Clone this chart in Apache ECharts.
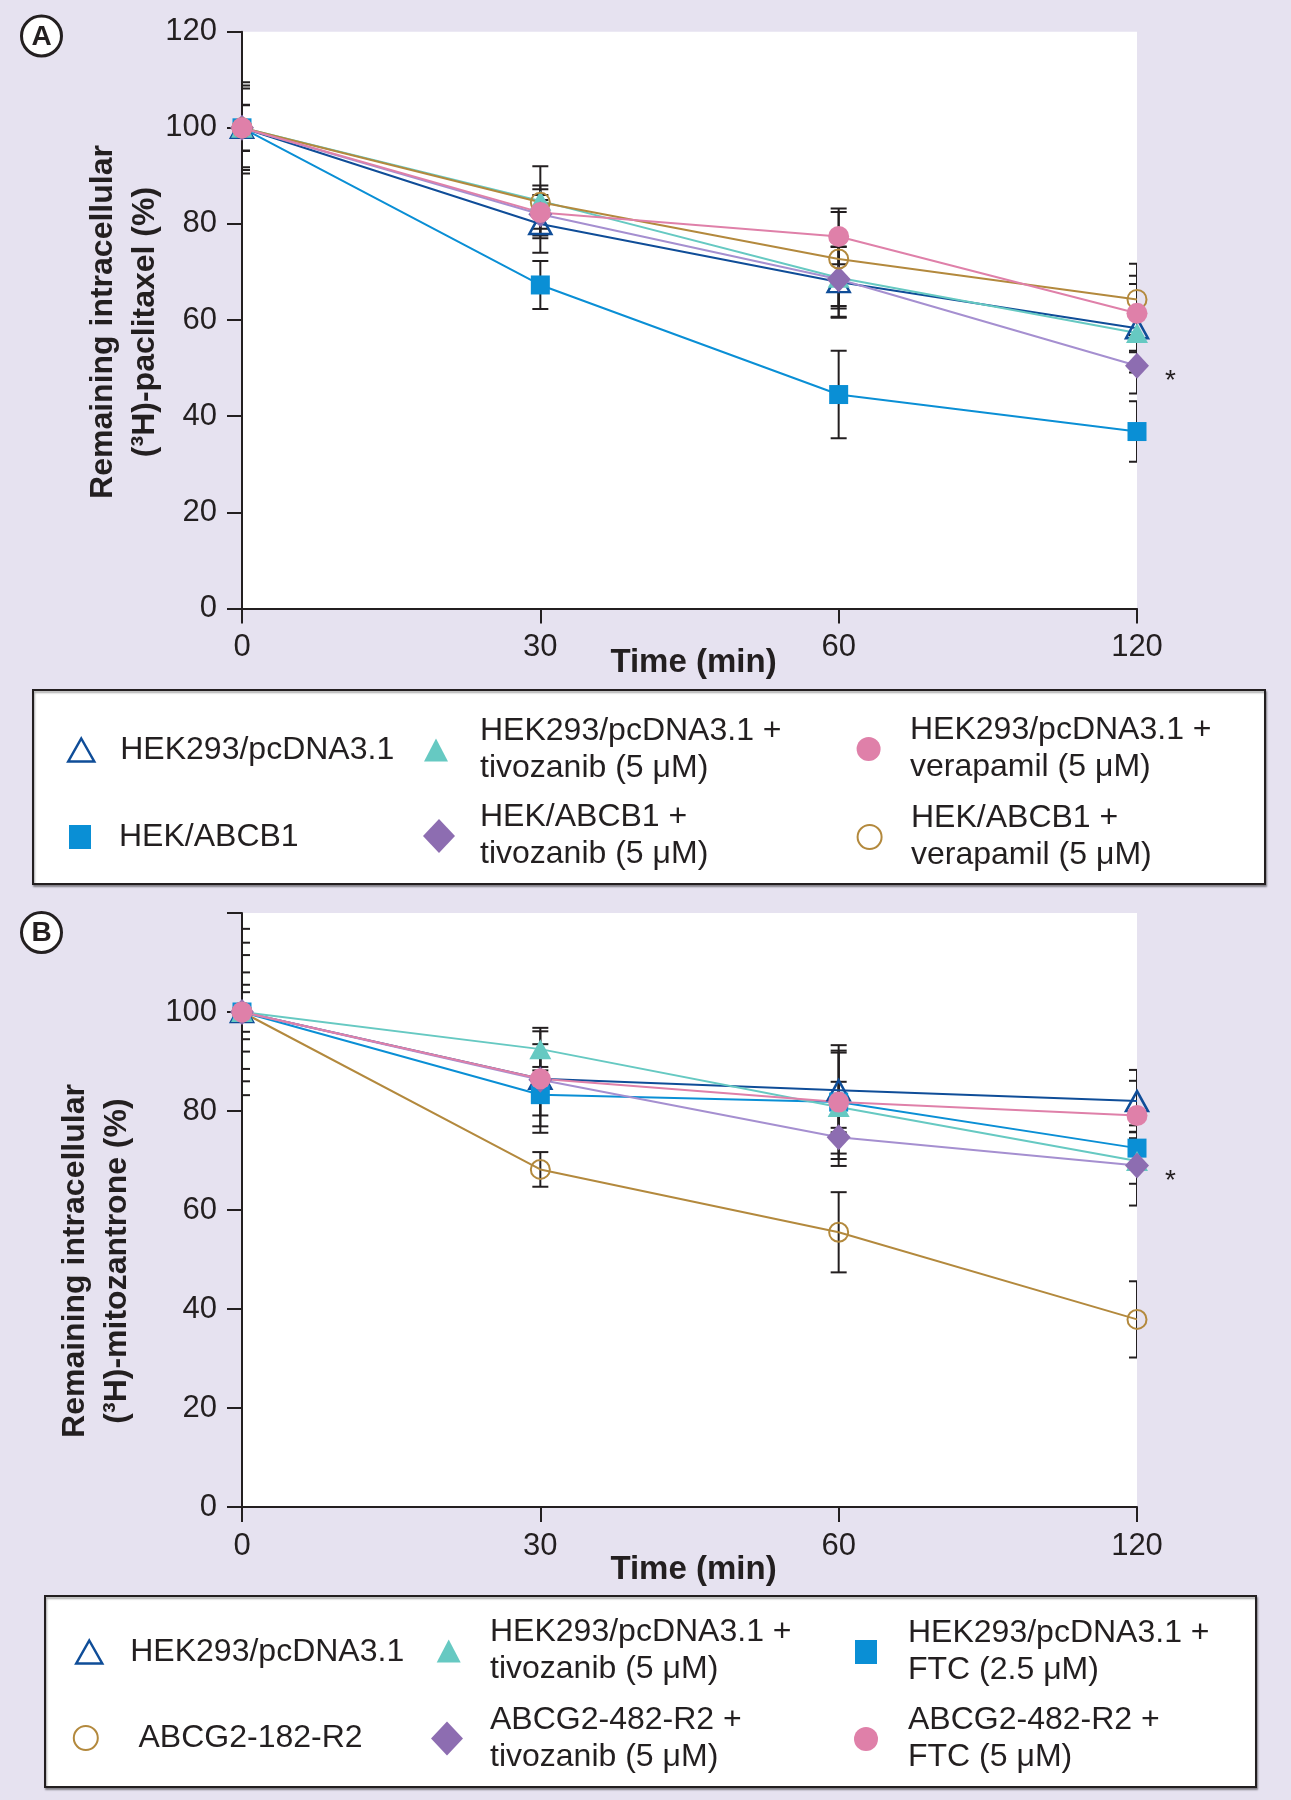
<!DOCTYPE html>
<html><head><meta charset="utf-8">
<script src="https://cdn.jsdelivr.net/npm/echarts@6/dist/echarts.min.js"></script>
<style>html,body{margin:0;padding:0;background:#e6e2f0}#c{width:1291px;height:1800px}</style>
</head><body><div id="c"></div>
<script>
// ---------- data ----------
const timeLabels = ['0', '30', '60', '120'];

// Panel A: (3H)-paclitaxel
const aPcdna      = [100, 80.0, 67.9, 58.3];  const aPcdnaErr      = [8.2, 6.0, 7.4, 9.2];
const aAbcb1      = [100, 67.3, 44.5, 36.8];  const aAbcb1Err      = [4.7, 5.0, 9.1, 6.3];
const aPcdnaTivo  = [100, 84.8, 68.8, 57.3];  const aPcdnaTivoErr  = [9.5, 3.2, 6.4, 4.0];
const aAbcb1Tivo  = [100, 82.0, 68.5, 50.5];  const aAbcb1TivoErr  = [8.8, 3.0, 7.8, 5.8];
const aPcdnaVera  = [100, 82.4, 77.4, 61.4];  const aPcdnaVeraErr  = [4.8, 4.8, 5.8, 7.8];
const aAbcb1Vera  = [100, 84.5, 72.7, 64.3];  const aAbcb1VeraErr  = [0, 7.5, 9.8, 7.4];

// Panel B: (3H)-mitozantrone
const bPcdna      = [100, 86.5, 84.2, 82.0];  const bPcdnaErr      = [8.0, 9.6, 7.6, 6.3];
const bPcdnaTivo  = [100, 92.5, 80.8, 69.9];  const bPcdnaTivoErr  = [11.5, 4.3, 5.1, 4.6];
const bPcdnaFtc   = [100, 83.3, 81.8, 72.5];  const bPcdnaFtcErr   = [4.0, 7.7, 11.5, 3.3];
const bAbcg2      = [100, 68.2, 55.5, 37.9];  const bAbcg2Err      = [5.5, 3.5, 8.1, 7.7];
const bAbcg2Tivo  = [100, 86.3, 74.7, 69.0];  const bAbcg2TivoErr  = [14.0, 7.2, 5.8, 8.1];
const bAbcg2Ftc   = [100, 86.5, 81.8, 79.1];  const bAbcg2FtcErr   = [16.8, 2.4, 10.4, 7.0];

const yTicks = [0, 20, 40, 60, 80, 100, 120];

// ---------- styles ----------
const FONT = "'Liberation Sans', Arial, Helvetica, sans-serif";
const INK = '#231f20';
const C = {
  navy: '#0f4d98', blue: '#0a8fd5', teal: '#66c9c2',
  purple: '#8d6db1', purpleLine: '#a58fd0', brown: '#b3893d', pink: '#df80a9'
};
const SYM = {
  openTri:  {symbol: 'triangle', size: [22, 20], fill: 'rgba(255,255,255,0)', stroke: C.navy, bw: 2.5, line: C.navy},
  tealTri:  {symbol: 'triangle', size: [22, 20], fill: C.teal, stroke: C.teal, bw: 0, line: C.teal},
  square:   {symbol: 'rect', size: [19, 19], fill: C.blue, stroke: C.blue, bw: 0, line: C.blue},
  diamond:  {symbol: 'diamond', size: [24, 26], fill: C.purple, stroke: C.purple, bw: 0, line: C.purpleLine},
  openCirc: {symbol: 'circle', size: 19, fill: 'rgba(255,255,255,0)', stroke: C.brown, bw: 2, line: C.brown},
  pinkCirc: {symbol: 'circle', size: 21, fill: C.pink, stroke: C.pink, bw: 0, line: C.pink}
};

// series definitions: [key, label, values, errors, symbolKey, gridIndex]
const seriesDefs = [
  ['A1', 'HEK293/pcDNA3.1', aPcdna, aPcdnaErr, 'openTri', 0],
  ['A2', 'HEK/ABCB1', aAbcb1, aAbcb1Err, 'square', 0],
  ['A3', 'HEK293/pcDNA3.1 +\ntivozanib (5 μM)', aPcdnaTivo, aPcdnaTivoErr, 'tealTri', 0],
  ['A4', 'HEK/ABCB1 +\ntivozanib (5 μM)', aAbcb1Tivo, aAbcb1TivoErr, 'diamond', 0],
  ['A6', 'HEK/ABCB1 +\nverapamil (5 μM)', aAbcb1Vera, aAbcb1VeraErr, 'openCirc', 0],
  ['A5', 'HEK293/pcDNA3.1 +\nverapamil (5 μM)', aPcdnaVera, aPcdnaVeraErr, 'pinkCirc', 0],
  ['B1', 'HEK293/pcDNA3.1', bPcdna, bPcdnaErr, 'openTri', 1],
  ['B4', 'ABCG2-182-R2', bAbcg2, bAbcg2Err, 'openCirc', 1],
  ['B3', 'HEK293/pcDNA3.1 +\nFTC (2.5 μM)', bPcdnaFtc, bPcdnaFtcErr, 'square', 1],
  ['B2', 'HEK293/pcDNA3.1 +\ntivozanib (5 μM)', bPcdnaTivo, bPcdnaTivoErr, 'tealTri', 1],
  ['B5', 'ABCG2-482-R2 +\ntivozanib (5 μM)', bAbcg2Tivo, bAbcg2TivoErr, 'diamond', 1],
  ['B6', 'ABCG2-482-R2 +\nFTC (5 μM)', bAbcg2Ftc, bAbcg2FtcErr, 'pinkCirc', 1]
];
const labelOf = {};
seriesDefs.forEach(d => { labelOf[d[0]] = d[1]; });

// ---------- layout ----------
const grids = [
  {left: 242, top: 31.7, width: 895, height: 576.7},
  {left: 242, top: 913, width: 895, height: 594}
];

function errSeries(gi) {
  const data = [];
  seriesDefs.filter(d => d[5] === gi).forEach(d => {
    d[2].forEach((v, i) => { if (d[3][i] > 0) data.push([i, v, d[3][i]]); });
  });
  return {
    type: 'custom', xAxisIndex: gi, yAxisIndex: gi, z: 1, clip: true, silent: true,
    encode: {x: 0, y: 1},
    data: data,
    renderItem: function (params, api) {
      const x = api.value(0), v = api.value(1), e = api.value(2);
      const t = api.coord([x, v + e]), b = api.coord([x, v - e]);
      const hw = 8, st = {stroke: INK, lineWidth: 2};
      return {type: 'group', children: [
        {type: 'line', shape: {x1: t[0], y1: t[1], x2: b[0], y2: b[1]}, style: st},
        {type: 'line', shape: {x1: t[0] - hw, y1: t[1], x2: t[0] + hw, y2: t[1]}, style: st},
        {type: 'line', shape: {x1: b[0] - hw, y1: b[1], x2: b[0] + hw, y2: b[1]}, style: st}
      ]};
    }
  };
}

const series = [errSeries(0), errSeries(1)];
seriesDefs.forEach(d => {
  const s = SYM[d[4]];
  const data = d[2].map(v => v);
  if (d[0] === 'A4' || d[0] === 'B5') {
    data[3] = {value: d[2][3], label: {show: true, formatter: '*', position: 'right', distance: 16,
      offset: [0, 16], fontSize: 28, color: INK, fontFamily: FONT}};
  }
  series.push({
    type: 'line', name: d[0], xAxisIndex: d[5], yAxisIndex: d[5], z: 2,
    data: data, symbol: s.symbol, symbolSize: s.size, showSymbol: true,
    itemStyle: {color: s.fill, borderColor: s.stroke, borderWidth: s.bw},
    lineStyle: {color: s.line, width: 2},
    emphasis: {disabled: true}, animation: false
  });
});

// ---------- legends ----------
// [key, iconCenterX, centerY, iconW, iconH, textStartX]
const legendPos = [
  ['A1', 80, 750, 26, 23, 119], ['A3', 436, 750, 24, 23, 480], ['A5', 868.6, 749, 24, 24, 910],
  ['A2', 80, 837, 22, 24, 119], ['A4', 439, 836, 32, 34, 480], ['A6', 868.6, 837, 24, 24, 910],
  ['B1', 88, 1652, 26, 23, 129], ['B2', 448.7, 1651, 24, 23, 490], ['B3', 866, 1652, 22, 24, 908],
  ['B4', 84.8, 1738, 24, 24, 137.5], ['B5', 447, 1738.5, 32, 34, 490], ['B6', 866, 1739, 24, 24, 908]
];
const legendIcon = {openTri: 'triangle', tealTri: 'triangle', square: 'rect', diamond: 'diamond', openCirc: 'circle', pinkCirc: 'circle'};
const LH = 37;
const legends = legendPos.map(p => {
  const def = seriesDefs.find(d => d[0] === p[0]);
  const s = SYM[def[4]];
  const lines = def[1].split('\n').length;
  const textH = lines * LH;
  const top = p[2] - Math.max(p[4] / 2, textH / 2);
  return {
    show: true, z: 10, padding: 0, selectedMode: false,
    left: p[1] - p[3] / 2, top: top,
    itemWidth: p[3], itemHeight: p[4],
    data: [{name: p[0], icon: legendIcon[def[4]],
      itemStyle: {color: s.fill === 'rgba(255,255,255,0)' ? '#ffffff' : s.fill, borderColor: s.stroke, borderWidth: s.bw}}],
    formatter: n => labelOf[n],
    textStyle: {fontSize: 32, lineHeight: LH, color: INK, fontFamily: FONT,
      padding: [0, 0, 0, p[5] - p[1] - p[3] / 2 - 5]}
  };
});

// ---------- axes ----------
function xAx(gi, gap) {
  return {
    type: 'category', gridIndex: gi, data: timeLabels, boundaryGap: false,
    axisLine: {lineStyle: {color: INK, width: 2}},
    axisTick: {show: true, length: 15, lineStyle: {color: INK, width: 2}},
    axisLabel: {fontSize: 31, color: INK, fontFamily: FONT, margin: 24},
    splitLine: {show: false},
    name: 'Time (min)', nameLocation: 'middle', nameGap: gap, nameMoveOverlap: false,
    nameTextStyle: {fontSize: 33, fontWeight: 'bold', color: INK, fontFamily: FONT, padding: [0, 0, 0, 8]}
  };
}
function yAx(gi, hideTop) {
  return {
    type: 'value', gridIndex: gi, min: yTicks[0], max: yTicks[yTicks.length - 1], interval: 20,
    axisLine: {show: true, lineStyle: {color: INK, width: 2}},
    axisTick: {show: true, length: 15, lineStyle: {color: INK, width: 2}},
    axisLabel: {fontSize: 31, color: INK, fontFamily: FONT, margin: 25,
      formatter: v => (hideTop && v === 120) ? '' : String(v)},
    splitLine: {show: false}
  };
}

const option = {
  backgroundColor: '#e6e2f0',
  animation: false,
  textStyle: {fontFamily: FONT},
  grid: grids.map(g => Object.assign({show: true, backgroundColor: '#ffffff', borderWidth: 0}, g)),
  xAxis: [xAx(0, 38), xAx(1, 46)],
  yAxis: [yAx(0, false), yAx(1, true)],
  legend: legends,
  series: series,
  graphic: [
    {type: 'rect', z: 0, shape: {x: 33, y: 690, width: 1232, height: 194},
      style: {fill: '#ffffff', stroke: INK, lineWidth: 2, shadowBlur: 2, shadowOffsetX: 1, shadowOffsetY: 2, shadowColor: 'rgba(0,0,0,0.35)'}},
    {type: 'rect', z: 0, shape: {x: 45, y: 1596, width: 1211, height: 191},
      style: {fill: '#ffffff', stroke: INK, lineWidth: 2, shadowBlur: 2, shadowOffsetX: 1, shadowOffsetY: 2, shadowColor: 'rgba(0,0,0,0.35)'}},
    {type: 'circle', shape: {cx: 41.5, cy: 36, r: 20}, style: {fill: '#fff', stroke: INK, lineWidth: 3}},
    {type: 'text', x: 41.5, y: 37, style: {text: 'A', font: 'bold 28px ' + FONT, fill: INK, align: 'center', verticalAlign: 'middle'}},
    {type: 'circle', shape: {cx: 41.5, cy: 932.5, r: 20}, style: {fill: '#fff', stroke: INK, lineWidth: 3}},
    {type: 'text', x: 41.5, y: 933.5, style: {text: 'B', font: 'bold 28px ' + FONT, fill: INK, align: 'center', verticalAlign: 'middle'}},
    {type: 'text', x: 124, y: 322, rotation: Math.PI / 2,
      style: {text: 'Remaining intracellular\n(³H)-paclitaxel (%)', font: 'bold 32px ' + FONT, lineHeight: 42,
        fill: INK, align: 'center', verticalAlign: 'middle'}},
    {type: 'text', x: 96.5, y: 1261, rotation: Math.PI / 2,
      style: {text: 'Remaining intracellular\n(³H)-mitozantrone (%)', font: 'bold 32px ' + FONT, lineHeight: 42,
        fill: INK, align: 'center', verticalAlign: 'middle'}}
  ]
};

const chart = echarts.init(document.getElementById('c'), null, {renderer: 'canvas'});
chart.setOption(option);
</script></body></html>
